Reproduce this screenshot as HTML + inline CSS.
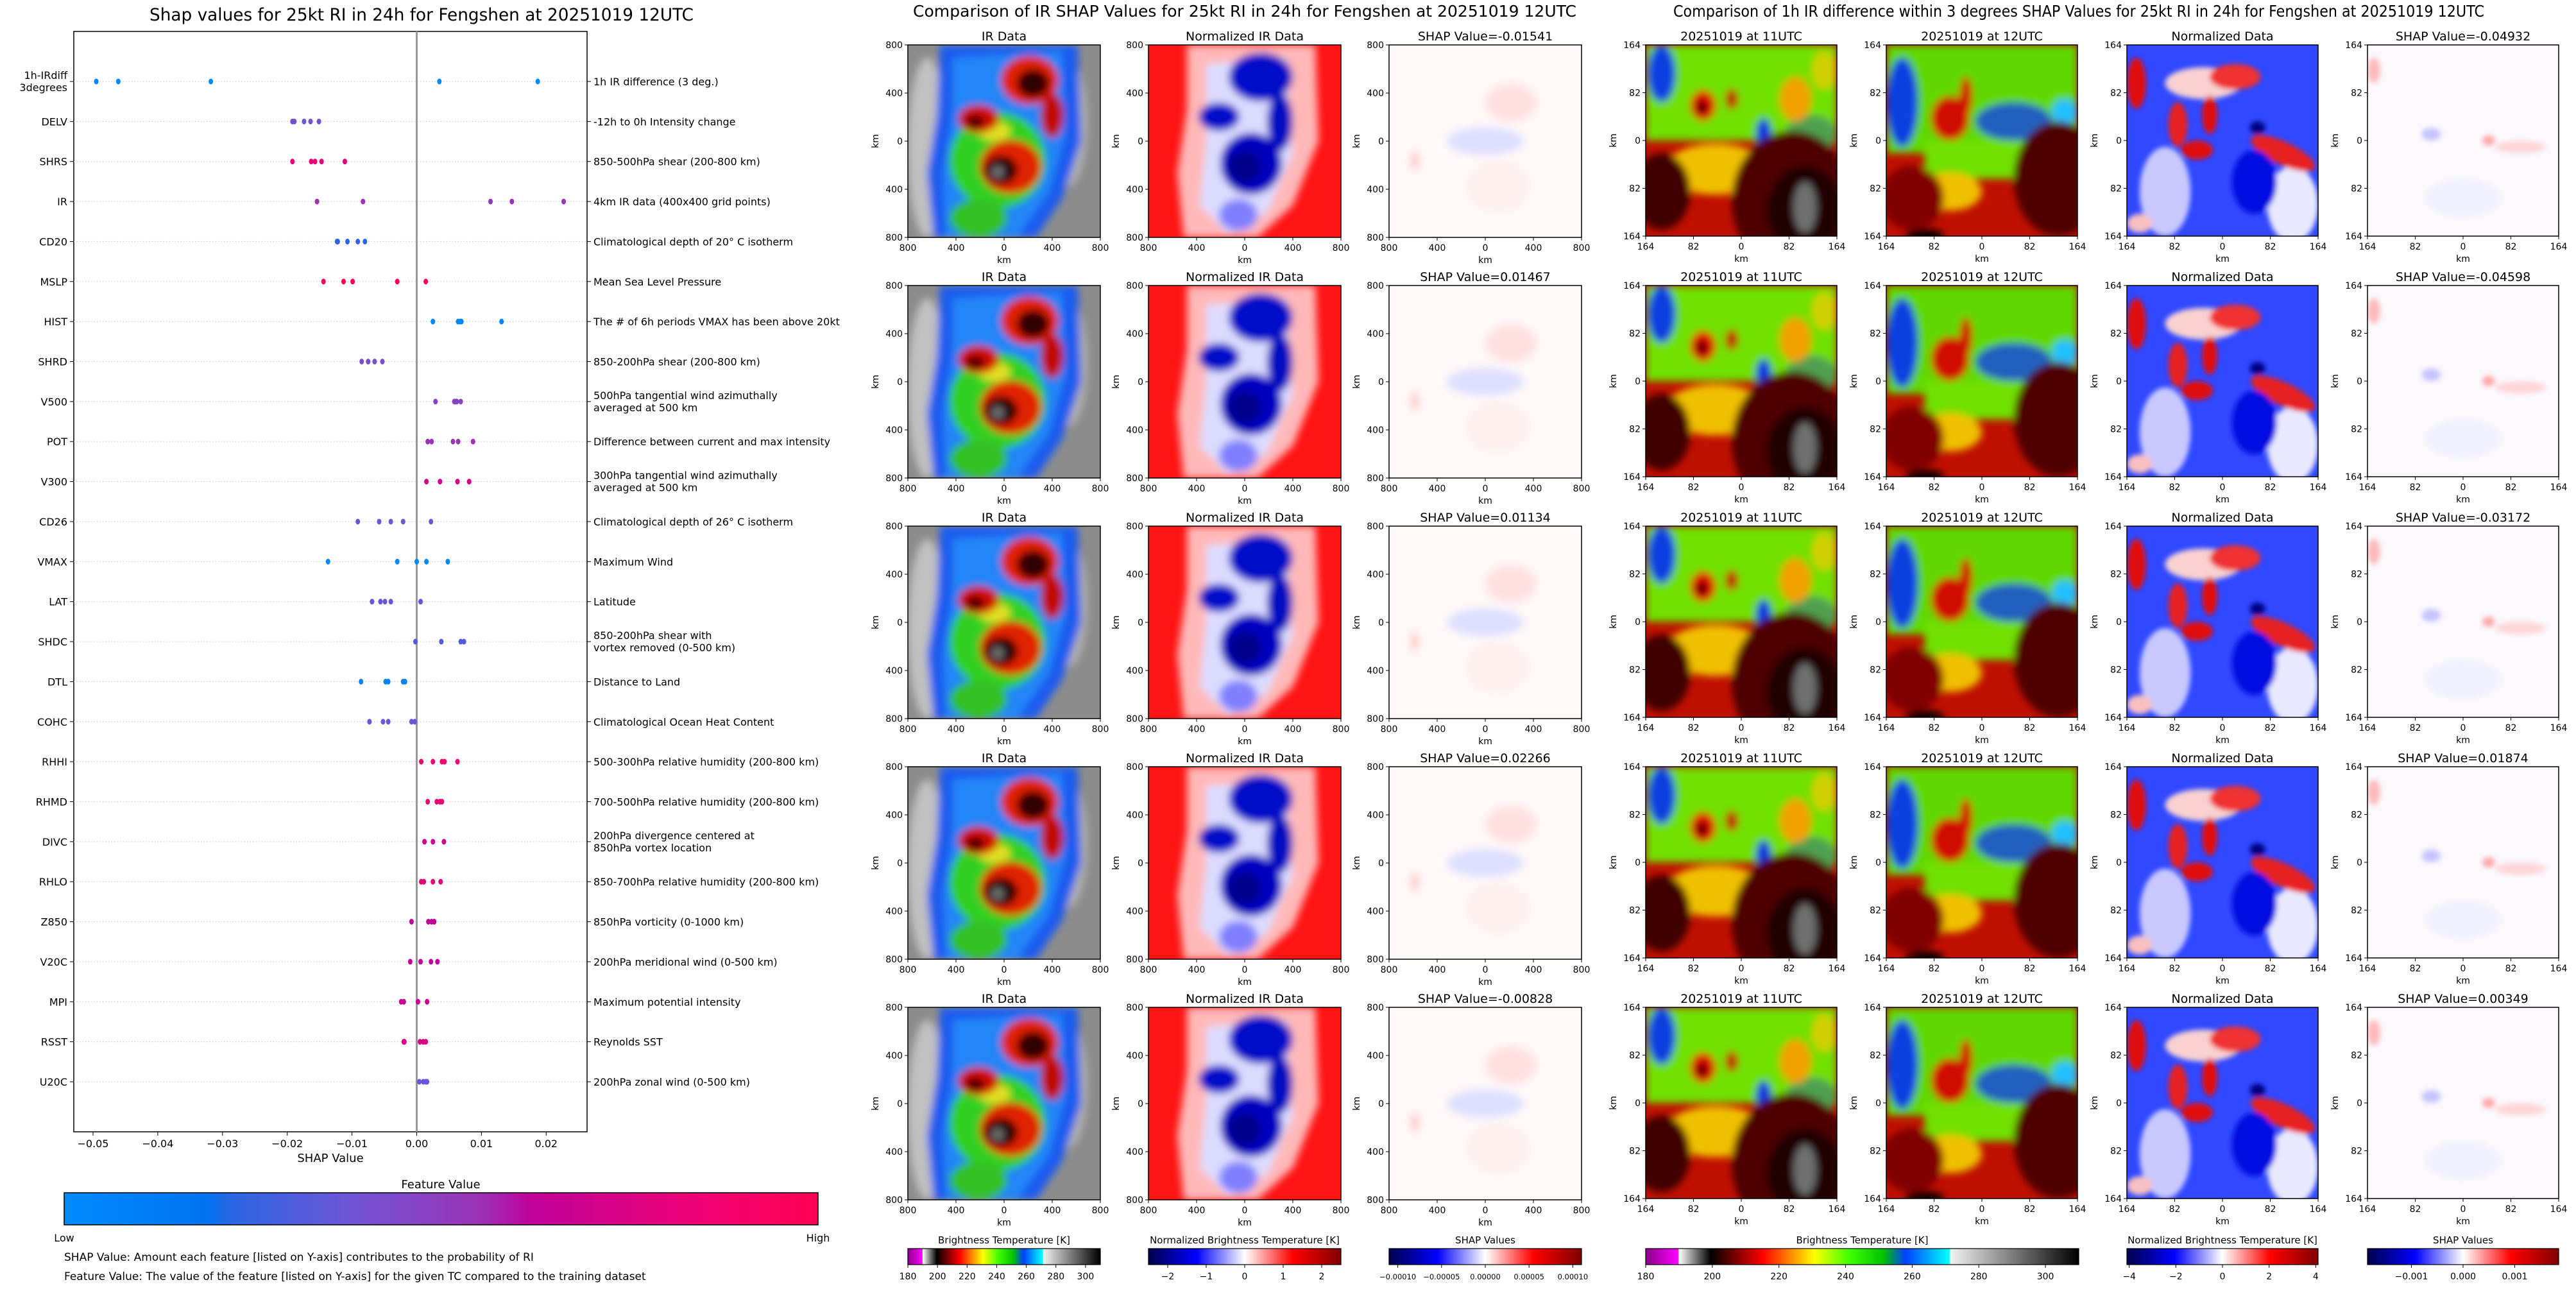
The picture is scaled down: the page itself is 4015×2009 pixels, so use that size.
<!DOCTYPE html>
<html><head><meta charset="utf-8">
<style>
html,body{margin:0;padding:0;background:#fff;}
svg{display:block;font-family:"DejaVu Sans","Liberation Sans",sans-serif;}
</style></head>
<body>
<svg id="fig" width="4015" height="2009" viewBox="0 0 4015 2009" xmlns="http://www.w3.org/2000/svg">
<defs>
<filter id="blur" x="-10%" y="-10%" width="120%" height="120%"><feGaussianBlur stdDeviation="6"/></filter>
<filter id="blur2" x="-10%" y="-10%" width="120%" height="120%"><feGaussianBlur stdDeviation="4"/></filter>
<linearGradient id="fvGrad" x1="0" x2="1" y1="0" y2="0">
<stop offset="0" stop-color="#008bfb"/><stop offset="0.19" stop-color="#0074ee"/><stop offset="0.22" stop-color="#2a66e2"/><stop offset="0.38" stop-color="#6f55d6"/><stop offset="0.55" stop-color="#9a34b4"/><stop offset="0.62" stop-color="#c0029a"/><stop offset="0.85" stop-color="#ef0272"/><stop offset="1" stop-color="#ff0052"/>
</linearGradient>
<linearGradient id="btGrad" x1="0" x2="1" y1="0" y2="0">
<stop offset="0" stop-color="#8a008a"/><stop offset="0.075" stop-color="#ff00ff"/><stop offset="0.077" stop-color="#ffffff"/><stop offset="0.15" stop-color="#000000"/><stop offset="0.27" stop-color="#ff0000"/><stop offset="0.33" stop-color="#ff8000"/><stop offset="0.39" stop-color="#ffff00"/><stop offset="0.47" stop-color="#40ff00"/><stop offset="0.55" stop-color="#00c000"/><stop offset="0.6" stop-color="#0040ff"/><stop offset="0.7" stop-color="#00ffff"/><stop offset="0.705" stop-color="#f0f0f0"/><stop offset="1" stop-color="#000000"/>
</linearGradient>
<linearGradient id="swGrad" x1="0" x2="1" y1="0" y2="0">
<stop offset="0" stop-color="#00004c"/><stop offset="0.25" stop-color="#0000ff"/><stop offset="0.5" stop-color="#ffffff"/><stop offset="0.75" stop-color="#ff0000"/><stop offset="1" stop-color="#800000"/>
</linearGradient>
</defs>
<g id="left"></g>
<g id="panels"></g>
</svg>
<script>
// ---------- SHAP summary data ----------
const features = ["1h-IRdiff","DELV","SHRS","IR","CD20","MSLP","HIST","SHRD","V500","POT","V300","CD26","VMAX","LAT","SHDC","DTL","COHC","RHHI","RHMD","DIVC","RHLO","Z850","V20C","MPI","RSST","U20C"];
const descriptions = ["1h IR difference (3 deg.)","-12h to 0h Intensity change","850-500hPa shear (200-800 km)","4km IR data (400x400 grid points)","Climatological depth of 20° C isotherm","Mean Sea Level Pressure","The # of 6h periods VMAX has been above 20kt","850-200hPa shear (200-800 km)","500hPa tangential wind azimuthally|averaged at 500 km","Difference between current and max intensity","300hPa tangential wind azimuthally|averaged at 500 km","Climatological depth of 26° C isotherm","Maximum Wind","Latitude","850-200hPa shear with|vortex removed (0-500 km)","Distance to Land","Climatological Ocean Heat Content","500-300hPa relative humidity (200-800 km)","700-500hPa relative humidity (200-800 km)","200hPa divergence centered at|850hPa vortex location","850-700hPa relative humidity (200-800 km)","850hPa vorticity (0-1000 km)","200hPa meridional wind (0-500 km)","Maximum potential intensity","Reynolds SST","200hPa zonal wind (0-500 km)"];
const shapValues = [
 [-0.0495,-0.0461,-0.0318,0.0035,0.0187],
 [-0.0192,-0.0189,-0.0174,-0.0164,-0.0151],
 [-0.0192,-0.0163,-0.0157,-0.0147,-0.0111],
 [-0.0154,-0.0083,0.0114,0.0147,0.0227],
 [-0.0123,-0.0122,-0.0107,-0.0091,-0.0080],
 [-0.0144,-0.0113,-0.0099,-0.0030,0.0014],
 [0.0025,0.0064,0.0067,0.0069,0.0131],
 [-0.0085,-0.0075,-0.0065,-0.0053],
 [0.0029,0.0058,0.0060,0.0062,0.0068],
 [0.0017,0.0023,0.0056,0.0064,0.0087],
 [0.0015,0.0036,0.0063,0.0081],
 [-0.0091,-0.0058,-0.0040,-0.0021,0.0022],
 [-0.0137,-0.0030,0.0000,0.0015,0.0048],
 [-0.0069,-0.0056,-0.0049,-0.0040,0.0006],
 [-0.0002,0.0038,0.0068,0.0073],
 [-0.0086,-0.0048,-0.0044,-0.0021,-0.0018],
 [-0.0073,-0.0052,-0.0044,-0.0008,-0.0003],
 [0.0007,0.0025,0.0039,0.0043,0.0063],
 [0.0017,0.0031,0.0036,0.0039],
 [0.0012,0.0025,0.0042],
 [0.0007,0.0011,0.0025,0.0037],
 [-0.0008,0.0018,0.0023,0.0027],
 [-0.0010,0.0006,0.0022,0.0032],
 [-0.0024,-0.0020,0.0002,0.0016],
 [-0.0020,-0.0019,0.0005,0.0010,0.0014],
 [0.0004,0.0010,0.0014,0.0016]
];
const featureLevel = [0.02,0.40,0.82,0.55,0.22,0.97,0.04,0.42,0.48,0.55,0.72,0.38,0.03,0.36,0.33,0.05,0.37,0.85,0.82,0.68,0.80,0.62,0.64,0.66,0.74,0.36];
const xTicks = [-0.05,-0.04,-0.03,-0.02,-0.01,0.00,0.01,0.02];
const xTickLabels = ["\u22120.05","\u22120.04","\u22120.03","\u22120.02","\u22120.01","0.00","0.01","0.02"];

const NS="http://www.w3.org/2000/svg";
function mk(tag, attrs, parent, txt){const e=document.createElementNS(NS,tag);for(const k in attrs)e.setAttribute(k,attrs[k]);if(txt!==undefined)e.textContent=txt;if(parent)parent.appendChild(e);return e;}

const AX={l:115,r:915,t:49,b:1764};
const xScale=v=>649.5+v*10090;
const yScale=i=>127+i*62.36;
const stops=[[0,[0,139,251]],[0.19,[0,116,238]],[0.22,[42,102,226]],[0.38,[111,85,214]],[0.55,[154,52,180]],[0.62,[192,2,154]],[0.85,[239,2,114]],[1,[255,0,82]]];
function fvColor(t){for(let i=1;i<stops.length;i++){if(t<=stops[i][0]){const a=stops[i-1],b=stops[i];const f=(t-a[0])/(b[0]-a[0]);const c=a[1].map((v,k)=>Math.round(v+(b[1][k]-v)*f));return `rgb(${c})`;}}return "rgb(255,0,82)";}

const L=document.getElementById('left');
let t=mk('text',{x:657,y:32,'text-anchor':'middle','font-size':'27',textLength:848,lengthAdjust:'spacingAndGlyphs'},L,'Shap values for 25kt RI in 24h for Fengshen at 20251019 12UTC');

let ax=mk('rect',{x:AX.l,y:AX.t,width:AX.r-AX.l,height:AX.b-AX.t,fill:'none',stroke:'#000','stroke-width':1.5},L);

let zl=mk('line',{x1:xScale(0),x2:xScale(0),y1:AX.t,y2:AX.b,stroke:'#999','stroke-width':3},L);


features.forEach((f,i)=>{
  const y=yScale(i);
  const g=mk('line',{x1:AX.l,x2:AX.r,y1:y,y2:y,stroke:'#ccc','stroke-width':1.2,'stroke-dasharray':'1.5 3'},L);
  
  mk('line',{x1:AX.l-6,x2:AX.l,y1:y,y2:y,stroke:'#000'},L);
  mk('line',{x1:AX.r,x2:AX.r+6,y1:y,y2:y,stroke:'#000'},L);
  let lab;
  if(f==="1h-IRdiff"){
    lab=mk('text',{x:AX.l-10,y:y-4,'text-anchor':'end','font-size':'16'},L);
    mk('tspan',{x:AX.l-10,dy:0},lab,'1h-IRdiff');mk('tspan',{x:AX.l-10,dy:19},lab,'3degrees');
  } else lab=mk('text',{x:AX.l-10,y:y+6,'text-anchor':'end','font-size':'16'},L,f);
  
  const parts=descriptions[i].split('|');
  let d;
  if(parts.length===1) d=mk('text',{x:925,y:y+6,'font-size':'16'},L,parts[0]);
  else{d=mk('text',{x:925,y:y-4,'font-size':'16'},L);mk('tspan',{x:925,dy:0},d,parts[0]);mk('tspan',{x:925,dy:19},d,parts[1]);}
  
  shapValues[i].forEach(v=>{
    const c=mk('ellipse',{cx:xScale(v),cy:y,rx:3.5,ry:4.5,fill:fvColor(featureLevel[i])},L);
    
  });
});
xTicks.forEach((v,k)=>{
  mk('line',{x1:xScale(v),x2:xScale(v),y1:AX.b,y2:AX.b+6,stroke:'#000'},L);
  const tl=mk('text',{x:xScale(v),y:AX.b+24,'text-anchor':'middle','font-size':'16'},L,xTickLabels[k]);
  
});
t=mk('text',{x:515,y:1811,'text-anchor':'middle','font-size':'18'},L,'SHAP Value');

t=mk('text',{x:687,y:1852,'text-anchor':'middle','font-size':'18'},L,'Feature Value');

t=mk('rect',{x:100,y:1859,width:1175,height:50,fill:'url(#fvGrad)',stroke:'#000','stroke-width':1.5},L);

t=mk('text',{x:100,y:1935,'text-anchor':'middle','font-size':'16'},L,'Low');

t=mk('text',{x:1275,y:1935,'text-anchor':'middle','font-size':'16'},L,'High');

t=mk('text',{x:100,y:1965,'font-size':'17'},L,'SHAP Value: Amount each feature [listed on Y-axis] contributes to the probability of RI');

t=mk('text',{x:100,y:1995,'font-size':'17'},L,'Feature Value: The value of the feature [listed on Y-axis] for the given TC compared to the training dataset');


// ---------- image panels ----------
const midShap = ["-0.01541","0.01467","0.01134","0.02266","-0.00828"];
const rightShap = ["-0.04932","-0.04598","-0.03172","0.01874","0.00349"];
const midTicks = ["800","400","0","400","800"];
const rightTicks = ["164","82","0","82","164"];

function art(type){
 switch(type){
 case 'ir': return `<rect width="300" height="300" fill="#8c8c8c"/>
 <g filter="url(#blur)">
 <ellipse cx="30" cy="160" rx="30" ry="140" fill="#c0c0c0"/><ellipse cx="250" cy="120" rx="30" ry="100" fill="#b0b0b0"/>
 <path d="M50 0 L265 0 L270 150 L240 240 L200 300 L40 300 L30 200 L45 110 Z" fill="#1a5cf0"/>
 <path d="M70 20 L240 10 L245 140 L220 230 L170 300 L60 300 L55 200 L70 110 Z" fill="#28a8ff" opacity="0.55"/>
 <ellipse cx="140" cy="180" rx="75" ry="75" fill="#30d020"/><ellipse cx="110" cy="270" rx="45" ry="30" fill="#30c020"/>
 <ellipse cx="135" cy="135" rx="25" ry="15" fill="#e0e020"/>
 <ellipse cx="190" cy="55" rx="45" ry="38" fill="#e02000"/><ellipse cx="195" cy="60" rx="25" ry="22" fill="#300000"/>
 <ellipse cx="225" cy="110" rx="18" ry="35" fill="#c01000"/>
 <ellipse cx="110" cy="115" rx="32" ry="22" fill="#d01000"/><ellipse cx="105" cy="120" rx="14" ry="10" fill="#400000"/>
 <ellipse cx="160" cy="190" rx="48" ry="42" fill="#e02000"/><ellipse cx="145" cy="195" rx="26" ry="22" fill="#200000"/>
 <ellipse cx="140" cy="198" rx="10" ry="10" fill="#707070"/>
 </g>`;
 case 'norm': return `<rect width="300" height="300" fill="#ff1414"/>
 <g filter="url(#blur)">
 <path d="M60 0 L260 0 L265 150 L225 250 L170 300 L55 300 L45 200 L60 100 Z" fill="#ffb8b8"/>
 <path d="M90 30 L215 20 L225 170 L185 260 L125 295 L80 250 L90 150 Z" fill="#dcdcff"/>
 <ellipse cx="175" cy="50" rx="50" ry="38" fill="#0010c8"/><ellipse cx="205" cy="120" rx="20" ry="45" fill="#0010c0"/>
 <ellipse cx="110" cy="112" rx="32" ry="22" fill="#0010c8"/>
 <ellipse cx="160" cy="185" rx="48" ry="48" fill="#0000c0"/><ellipse cx="150" cy="190" rx="25" ry="25" fill="#00008a"/>
 <ellipse cx="140" cy="265" rx="30" ry="25" fill="#8080ff"/>
 </g>`;
 case 'mshap': return `<rect width="300" height="300" fill="#fff8f8"/>
 <g filter="url(#blur)">
 <ellipse cx="150" cy="150" rx="60" ry="22" fill="#dde0ff"/><ellipse cx="190" cy="90" rx="40" ry="30" fill="#ffe0e0"/>
 <ellipse cx="170" cy="220" rx="50" ry="40" fill="#fff0f0"/><ellipse cx="40" cy="180" rx="6" ry="15" fill="#ffc8c8"/>
 </g>`;
 case 'h11': return `<rect width="300" height="300" fill="#c01000"/>
 <g filter="url(#blur)">
 <rect width="300" height="150" fill="#70e000"/>
 <ellipse cx="25" cy="45" rx="22" ry="45" fill="#1040e0"/><ellipse cx="260" cy="140" rx="40" ry="30" fill="#50a050"/>
 <ellipse cx="235" cy="85" rx="25" ry="35" fill="#f0a000"/><ellipse cx="280" cy="40" rx="20" ry="30" fill="#d0d000"/>
 <ellipse cx="90" cy="95" rx="20" ry="24" fill="#e01000"/><ellipse cx="88" cy="98" rx="8" ry="10" fill="#200000"/><ellipse cx="135" cy="85" rx="10" ry="16" fill="#c01000"/>
 <ellipse cx="185" cy="140" rx="12" ry="25" fill="#1030e0"/>
 <ellipse cx="110" cy="195" rx="80" ry="40" fill="#f0c000"/>
 <ellipse cx="230" cy="245" rx="95" ry="110" fill="#500000"/><ellipse cx="250" cy="260" rx="60" ry="70" fill="#200000"/>
 <ellipse cx="25" cy="230" rx="45" ry="60" fill="#400000"/><ellipse cx="250" cy="255" rx="18" ry="40" fill="#707070"/>
 </g>`;
 case 'h12': return `<rect width="300" height="300" fill="#c01000"/>
 <g filter="url(#blur)">
 <rect width="300" height="170" fill="#60d800"/><rect x="60" y="150" width="150" height="60" fill="#70e000"/>
 <ellipse cx="25" cy="90" rx="25" ry="70" fill="#1040e0"/><ellipse cx="200" cy="120" rx="60" ry="30" fill="#2060c0"/><ellipse cx="280" cy="105" rx="20" ry="20" fill="#20c0ff"/>
 <ellipse cx="100" cy="115" rx="30" ry="35" fill="#d01000"/><ellipse cx="125" cy="80" rx="10" ry="30" fill="#d01000"/>
 <ellipse cx="100" cy="230" rx="50" ry="30" fill="#f0c000"/>
 <ellipse cx="40" cy="240" rx="50" ry="50" fill="#800000"/><ellipse cx="270" cy="210" rx="70" ry="90" fill="#500000"/>
 <ellipse cx="60" cy="300" rx="30" ry="12" fill="#100000"/>
 </g>`;
 case 'rnorm': return `<rect width="300" height="300" fill="#3048ff"/>
 <g filter="url(#blur2)">
 <ellipse cx="120" cy="60" rx="60" ry="25" fill="#f8d0d0"/><ellipse cx="60" cy="230" rx="40" ry="70" fill="#c8c8ff"/><ellipse cx="260" cy="250" rx="40" ry="60" fill="#e8e8ff"/>
 <ellipse cx="15" cy="60" rx="15" ry="40" fill="#e01010"/><ellipse cx="170" cy="50" rx="40" ry="20" fill="#f03030"/>
 <ellipse cx="130" cy="110" rx="12" ry="30" fill="#e01010"/><ellipse cx="80" cy="125" rx="15" ry="35" fill="#e82020"/><ellipse cx="110" cy="165" rx="25" ry="15" fill="#e01010"/>
 <ellipse cx="245" cy="170" rx="55" ry="18" fill="#e82020" transform="rotate(25 245 170)"/>
 <ellipse cx="200" cy="215" rx="35" ry="50" fill="#0010e0"/><ellipse cx="205" cy="130" rx="12" ry="10" fill="#000080"/>
 <ellipse cx="20" cy="280" rx="20" ry="15" fill="#f8c0c0"/>
 </g>`;
 case 'rshap': return `<rect width="300" height="300" fill="#fbf9fc"/>
 <g filter="url(#blur2)">
 <ellipse cx="10" cy="40" rx="10" ry="20" fill="#ff9090" opacity="0.6"/><ellipse cx="100" cy="140" rx="15" ry="10" fill="#a0a0ff" opacity="0.6"/>
 <ellipse cx="190" cy="150" rx="10" ry="8" fill="#ff7070" opacity="0.6"/><ellipse cx="240" cy="160" rx="40" ry="10" fill="#ffc0c0" opacity="0.6"/>
 <ellipse cx="150" cy="240" rx="60" ry="30" fill="#eeeeff" opacity="0.8"/>
 </g>`;
 }
}

const P=document.getElementById('panels');
function addText(x,y,s,size,anchor,name,extra){const e=mk('text',Object.assign({x:x,y:y,'font-size':size,'text-anchor':anchor||'middle'},extra||{}),P,s);return e;}

function panel(x,y,w,type,title,ticks,name){
  const g=mk('g',{},P);
  
  const s=mk('svg',{x:x,y:y,width:w,height:w,viewBox:'0 0 300 300',preserveAspectRatio:'none'},g);
  s.innerHTML=art(type);
  mk('rect',{x:x,y:y,width:w,height:w,fill:'none',stroke:'#000','stroke-width':1.5},g);
  addText(x+w/2,y-7,title,19,'middle','panel-title');
  ticks.forEach((tk,k)=>{
    const tx=x+k*w/4, ty=y+k*w/4;
    mk('line',{x1:tx,x2:tx,y1:y+w,y2:y+w+5,stroke:'#000'},g);
    mk('line',{x1:x-5,x2:x,y1:ty,y2:ty,stroke:'#000'},g);
    addText(tx,y+w+21,tk,14,'middle','x-tick-label');
    addText(x-8,ty+5,tk,14,'end','y-tick-label');
  });
  addText(x+w/2,y+w+40,'km',14,'middle','x-axis-label');
  addText(0,0,'km',14,'middle','y-axis-label',{transform:`translate(${x-46},${y+w/2}) rotate(-90)`});
}
addText(1940,26,'Comparison of IR SHAP Values for 25kt RI in 24h for Fengshen at 20251019 12UTC',25,'middle','ir-group-title',{textLength:1034,lengthAdjust:'spacingAndGlyphs'});
addText(3240,26,'Comparison of 1h IR difference within 3 degrees SHAP Values for 25kt RI in 24h for Fengshen at 20251019 12UTC',25,'middle','irdiff-group-title',{textLength:1264,lengthAdjust:'spacingAndGlyphs'});
for(let r=0;r<5;r++){
  const y=70+r*375;
  panel(1415,y,300,'ir','IR Data',midTicks,'ir-data-panel');
  panel(1790,y,300,'norm','Normalized IR Data',midTicks,'normalized-ir-panel');
  panel(2165,y,300,'mshap','SHAP Value='+midShap[r],midTicks,'ir-shap-panel');
  panel(2565,y,298,'h11','20251019 at 11UTC',rightTicks,'ir-11utc-panel');
  panel(2940,y,298,'h12','20251019 at 12UTC',rightTicks,'ir-12utc-panel');
  panel(3315,y,298,'rnorm','Normalized Data',rightTicks,'normalized-diff-panel');
  panel(3690,y,298,'rshap','SHAP Value='+rightShap[r],rightTicks,'diff-shap-panel');
}

// ---------- colorbars ----------
function cbar(x,w,grad,title,lo,hi,ticks,labels,name,fs){
  const r=mk('rect',{x:x,y:1946,width:w,height:25,fill:`url(#${grad})`,stroke:'#000','stroke-width':1.2},P);
  
  addText(x+w/2,1938,title,15,'middle','colorbar-title');
  ticks.forEach((v,k)=>{const tx=x+(v-lo)/(hi-lo)*w;mk('line',{x1:tx,x2:tx,y1:1971,y2:1976,stroke:'#000'},P);addText(tx,1994,labels[k],fs||14,'middle','colorbar-tick');});
}
const btTicks=[180,200,220,240,260,280,300];
cbar(1415,300,'btGrad','Brightness Temperature [K]',180,310,btTicks,btTicks.map(String),'bt-colorbar');
cbar(1790,300,'swGrad','Normalized Brightness Temperature [K]',-2.5,2.5,[-2,-1,0,1,2],["\u22122","\u22121","0","1","2"],'normalized-colorbar');
cbar(2165,300,'swGrad','SHAP Values',-0.00011,0.00011,[-0.0001,-0.00005,0,0.00005,0.0001],["\u22120.00010","\u22120.00005","0.00000","0.00005","0.00010"],'shap-colorbar',11.5);
cbar(2565,675,'btGrad','Brightness Temperature [K]',180,310,btTicks,btTicks.map(String),'bt-colorbar-right');
cbar(3315,298,'swGrad','Normalized Brightness Temperature [K]',-4.1,4.1,[-4,-2,0,2,4],["\u22124","\u22122","0","2","4"],'normalized-colorbar-right');
cbar(3690,298,'swGrad','SHAP Values',-0.00185,0.00185,[-0.001,0,0.001],["\u22120.001","0.000","0.001"],'shap-colorbar-right');
</script>
</body></html>
